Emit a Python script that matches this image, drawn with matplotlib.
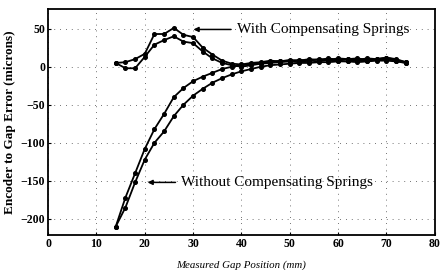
import numpy as np
import matplotlib
matplotlib.use('Agg')
import matplotlib.pyplot as plt

# gap positions (mm)
gap = [14, 16, 18, 20, 22, 24, 26, 28, 30, 32, 34, 36, 38, 40, 42, 44, 46, 48, 50,
       52, 54, 56, 58, 60, 62, 64, 66, 68, 70, 72, 74]

# with compensating springs (two runs)
with_a = [5, 6, 10, 17, 43, 43, 51, 42, 39, 25, 16, 8, 4, 3, 5, 6, 8, 7, 9,
          8, 10, 9, 11, 9, 10, 11, 9, 10, 12, 9, 6]
with_b = [5, -2, -2, 13, 29, 35, 40, 33, 31, 20, 11, 5, 2, 0, 2, 4, 5, 6, 7,
          6, 8, 7, 9, 8, 7, 9, 8, 9, 10, 8, 5]

# without compensating springs (two runs)
without_a = [-210, -172, -140, -108, -82, -62, -40, -28, -19, -13, -8, -3, 0, 2, 3, 5, 6, 8, 7,
             9, 8, 10, 9, 11, 10, 9, 11, 10, 12, 10, 6]
without_b = [-210, -185, -152, -122, -100, -85, -65, -50, -38, -29, -21, -15, -10, -6, -3, 0, 2, 3, 4,
             5, 5, 6, 6, 7, 7, 6, 7, 8, 8, 7, 5]

plt.rcParams['font.family'] = ['Liberation Serif', 'DejaVu Serif']

fig = plt.figure(figsize=(4.41, 2.70), dpi=100)
ax = fig.add_axes([0.109, 0.13, 0.877, 0.837])

for y in [with_a, with_b, without_a, without_b]:
    ax.plot(gap, y, color='k', lw=1.3, marker='o', ms=2.6, mfc='k', mec='k')

ax.set_xlim(0, 80)
ax.set_ylim(-221, 76)
ax.set_xticks([0, 10, 20, 30, 40, 50, 60, 70, 80])
ax.set_yticks([50, 0, -50, -100, -150, -200])
ax.grid(color='#444444', linestyle=(0, (1, 6)), lw=0.6)
ax.tick_params(direction='in', length=2, labelsize=8.5, pad=2)
for lab in ax.get_xticklabels() + ax.get_yticklabels():
    lab.set_fontweight('bold')
for s in ax.spines.values():
    s.set_linewidth(1.3)

ax.set_xlabel('Measured Gap Position (mm)', style='italic', fontsize=7.8, labelpad=8)
ax.set_ylabel('Encoder to Gap Error (microns)', fontweight='bold', fontsize=9.5, labelpad=3)

ax.annotate('With Compensating Springs', xy=(29.5, 49), xytext=(39, 49),
            fontsize=11, va='center',
            arrowprops=dict(arrowstyle='-|>', color='k', lw=1.1, mutation_scale=7))
ax.annotate('Without Compensating Springs', xy=(20, -152), xytext=(27.5, -152),
            fontsize=11, va='center',
            arrowprops=dict(arrowstyle='-|>', color='k', lw=1.1, mutation_scale=7))

fig.savefig('out.png', dpi=100)
